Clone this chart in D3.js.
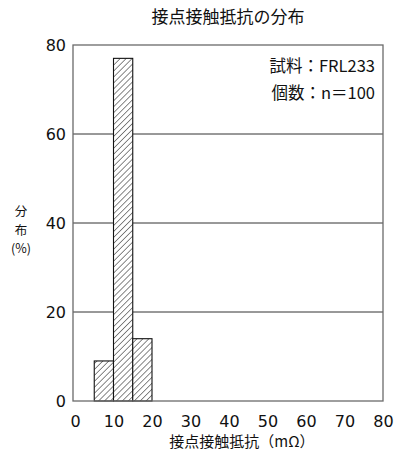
<!DOCTYPE html>
<html>
<head>
<meta charset="utf-8">
<script src="https://d3js.org/d3.v7.min.js"></script>
<style>
  body { margin: 0; background: #fff; }
  text { font-family: "DejaVu Sans", "Noto Sans CJK JP", sans-serif; fill: #111; }
  .jp { font-family: "Noto Sans CJK JP", sans-serif; }
</style>
</head>
<body>
<svg id="chart" width="396" height="456"></svg>
<script>
// bins (mΩ) and share of samples (%)
const binStart = [5, 10, 15];
const binEnd = [10, 15, 20];
const share = [9, 77, 14];
const xTicks = [0, 10, 20, 30, 40, 50, 60, 70, 80];
const yTicks = [0, 20, 40, 60, 80];

const svg = d3.select("#chart");
const margin = {left: 73, right: 13, top: 45, bottom: 55};
const W = +svg.attr("width"), H = +svg.attr("height");

const x = d3.scaleLinear().domain([0, 80]).range([margin.left + 2, W - margin.right]);
const y = d3.scaleLinear().domain([0, 80]).range([H - margin.bottom, margin.top]);

// hatch pattern
const pat = svg.append("defs").append("pattern")
  .attr("id", "hatch")
  .attr("patternUnits", "userSpaceOnUse")
  .attr("width", 4.2).attr("height", 4.2)
  .attr("patternTransform", "rotate(45)");
pat.append("rect").attr("width", 4.2).attr("height", 4.2).attr("fill", "#fff");
pat.append("line").attr("x1", 0).attr("y1", 0).attr("x2", 0).attr("y2", 4.2)
  .attr("stroke", "#111").attr("stroke-width", 1);

// gridlines
svg.append("g").selectAll("line")
  .data(yTicks.filter(d => d > 0 && d < 80))
  .join("line")
  .attr("x1", margin.left).attr("x2", W - margin.right)
  .attr("y1", d => y(d)).attr("y2", d => y(d))
  .attr("stroke", "#333").attr("stroke-width", 1);

// bars
svg.append("g").selectAll("rect")
  .data(share)
  .join("rect")
  .attr("x", (d, i) => x(binStart[i]))
  .attr("width", (d, i) => x(binEnd[i]) - x(binStart[i]))
  .attr("y", d => y(d))
  .attr("height", d => y(0) - y(d))
  .attr("fill", "url(#hatch)")
  .attr("stroke", "#111").attr("stroke-width", 1.1);

// frame
svg.append("rect")
  .attr("x", margin.left).attr("y", margin.top)
  .attr("width", W - margin.right - margin.left)
  .attr("height", H - margin.bottom - margin.top)
  .attr("fill", "none").attr("stroke", "#6a6a6a").attr("stroke-width", 1.3);

// y tick labels
svg.append("g")
  .attr("transform", "translate(" + margin.left + ",0)")
  .call(d3.axisLeft(y).tickValues(yTicks).tickSize(0).tickPadding(7))
  .call(g => g.select(".domain").remove())
  .call(g => g.selectAll("text").attr("font-size", 16).attr("fill", "#111")
    .style("font-family", "DejaVu Sans, sans-serif"));

// x tick labels
svg.append("g")
  .attr("transform", "translate(0," + (H - margin.bottom) + ")")
  .call(d3.axisBottom(x).tickValues(xTicks).tickSize(0).tickPadding(15))
  .call(g => g.select(".domain").remove())
  .call(g => g.selectAll("text").attr("font-size", 16).attr("fill", "#111")
    .style("font-family", "DejaVu Sans, sans-serif"));

const cx = (margin.left + W - margin.right) / 2;

svg.append("text").attr("class", "jp")
  .attr("x", cx).attr("y", 23)
  .attr("text-anchor", "middle").attr("font-size", 17)
  .text("接点接触抵抗の分布");

svg.append("text").attr("class", "jp")
  .attr("x", cx + 14).attr("y", 447)
  .attr("text-anchor", "middle").attr("font-size", 15)
  .text("接点接触抵抗（mΩ）");

// y label, stacked
const yLab = svg.append("text").attr("class", "jp")
  .attr("x", 21).attr("y", 216)
  .attr("text-anchor", "middle").attr("font-size", 12.5);
["分", "布", "(%)"].forEach((t, i) => {
  yLab.append("tspan").attr("x", 21).attr("dy", i ? 18.6 : 0).text(t);
});

// sample note
const notes = ["試料：FRL233", "個数：n＝100"];
svg.append("g").selectAll("text")
  .data(notes)
  .join("text").attr("class", "jp")
  .attr("x", W - margin.right - 8)
  .attr("y", (d, i) => 72 + i * 27)
  .attr("text-anchor", "end").attr("font-size", 16.5)
  .text(d => d);
</script>
</body>
</html>
